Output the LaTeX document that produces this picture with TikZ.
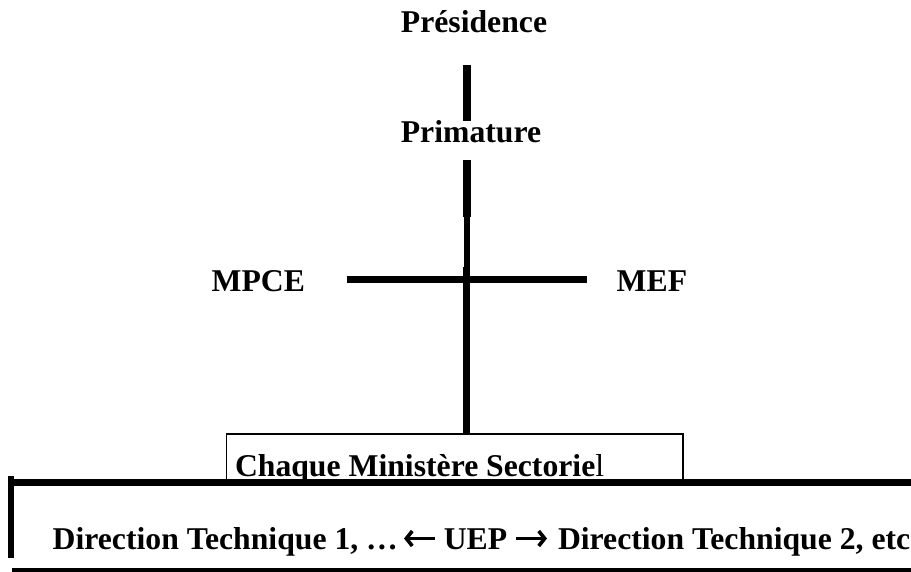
\documentclass[tikz,border=0pt]{standalone}
\usepackage{fontspec}
\setmainfont{Liberation Serif}
\usetikzlibrary{arrows.meta}
\begin{document}
\begin{tikzpicture}[x=1pt,y=-1pt,
  lbl/.style={font=\fontsize{31.7}{36}\selectfont\bfseries, inner sep=0pt, outer sep=0pt},
  thickline/.style={line width=7.4pt, black},
  thinline/.style={line width=5.8pt, black},
  boxst/.style={draw=black, line width=1.8pt, inner sep=0pt, outer sep=0pt},
  uarrow/.style={line width=3.8pt, -{Straight Barb[length=6pt,width=15pt,line width=3.6pt]}}]
\useasboundingbox (0,0) rectangle (911,572);
\fill[white] (0,0) rectangle (911,572);
% texts
\node[lbl, anchor=base] (pres) at (474,33) {Présidence};
\node[lbl, anchor=base] (prim) at (471,143) {Primature};
\node[lbl, anchor=base west] (mpce) at (211.7,291.7) {MPCE};
\node[lbl, anchor=base west] (mef) at (616.7,291.7) {MEF};
% ministry box
\node[boxst, anchor=north west, minimum width=456.2pt, minimum height=48.4pt] (box) at (226.5,434.3) {};
\node[lbl, anchor=base west] (chaque) at (235,476) {Chaque Ministère Sectorie\mdseries l};
% connector coordinates
\coordinate (v1a) at (467,65);
\coordinate (v1b) at (467,120.7);
\coordinate (v2a) at (466.8,160);
\coordinate (v2b) at (466.8,216.7);
\coordinate (v2c) at (467.1,216.7);
\coordinate (v2d) at (467.1,266.7);
\coordinate (v2e) at (466.7,266.7);
\coordinate (hl) at (346.7,279.7);
\coordinate (hr) at (586.7,279.7);
\draw[thickline] (v1a) -- (v1b);
\draw[thickline] (v2a) -- (v2b);
\draw[thinline] (v2c) -- (v2d);
\draw[thickline] (v2e) -- (v2e |- box.north);
\draw[thickline] (hl) -- (hr);
% bottom band
\coordinate (bl1) at (11.2,476);
\coordinate (bl2) at (11.2,558);
\coordinate (tl) at (11.7,482.7);
\coordinate (tr) at (930,482.7);
\coordinate (bbl) at (11.7,571.8);
\coordinate (bbr) at (930,571.8);
\draw[line width=6pt] (bl1) -- (bl2);
\draw[line width=7.2pt] (tl) -- (tr);
\draw[line width=7.2pt] (bbl) -- (bbr);
% bottom texts and arrows
\node[lbl, anchor=base west] (dir1) at (52.7,549.3) {Direction Technique 1, …};
\node[lbl, anchor=base] (uep) at (475.5,549.3) {UEP};
\node[lbl, anchor=base west] (dir2) at (558,549.3) {Direction Technique 2, etc};
\coordinate (a1s) at (435,538.5);
\coordinate (a1e) at (404,538.5);
\coordinate (a2s) at (516,538.5);
\coordinate (a2e) at (547,538.5);
\draw[uarrow] (a1s) -- (a1e);
\draw[uarrow] (a2s) -- (a2e);
\end{tikzpicture}
\end{document}
